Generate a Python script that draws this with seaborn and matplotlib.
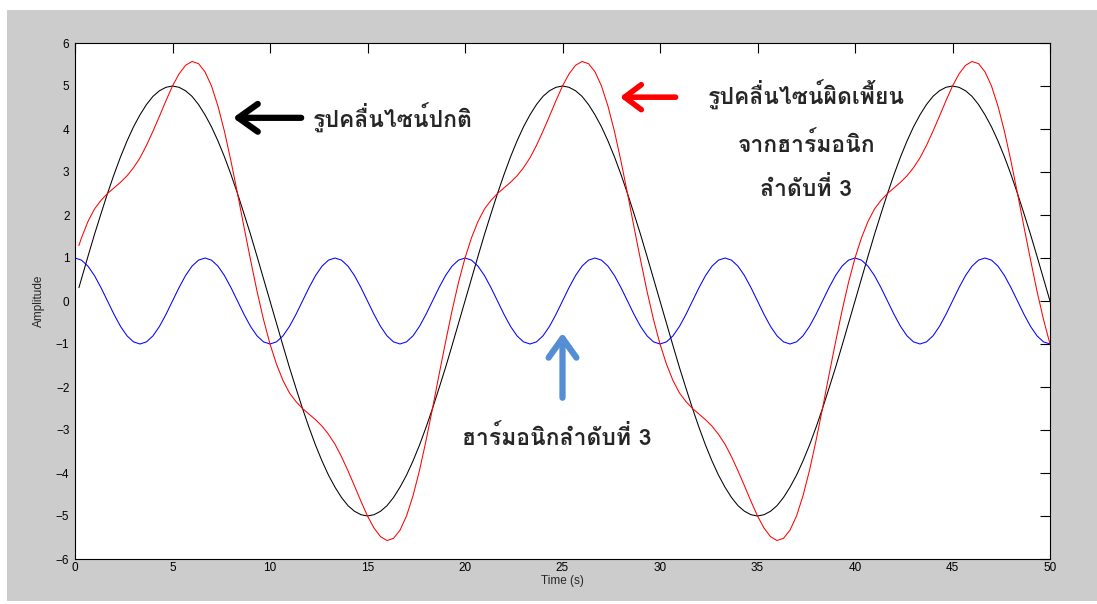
import numpy as np
import pandas as pd
import matplotlib
matplotlib.use("Agg")
import matplotlib.pyplot as plt
import seaborn as sns
from matplotlib.patches import Rectangle

# -----------------------------------------------------------------------------
# DATA (one sample every 1/3 s)
# -----------------------------------------------------------------------------

time = np.arange(151) / 3.0

fundamental = [
    0, 0.52, 1.04, 1.55, 2.03, 2.5, 2.94, 3.35, 3.72, 4.05, 4.33, 4.57, 4.76, 4.89, 4.97,
    5, 4.97, 4.89, 4.76, 4.57, 4.33, 4.05, 3.72, 3.35, 2.94, 2.5, 2.03, 1.55, 1.04, 0.52,
    0, -0.52, -1.04, -1.55, -2.03, -2.5, -2.94, -3.35, -3.72, -4.05, -4.33, -4.57, -4.76, -4.89, -4.97,
    -5, -4.97, -4.89, -4.76, -4.57, -4.33, -4.05, -3.72, -3.35, -2.94, -2.5, -2.03, -1.55, -1.04, -0.52,
    0, 0.52, 1.04, 1.55, 2.03, 2.5, 2.94, 3.35, 3.72, 4.05, 4.33, 4.57, 4.76, 4.89, 4.97,
    5, 4.97, 4.89, 4.76, 4.57, 4.33, 4.05, 3.72, 3.35, 2.94, 2.5, 2.03, 1.55, 1.04, 0.52,
    0, -0.52, -1.04, -1.55, -2.03, -2.5, -2.94, -3.35, -3.72, -4.05, -4.33, -4.57, -4.76, -4.89, -4.97,
    -5, -4.97, -4.89, -4.76, -4.57, -4.33, -4.05, -3.72, -3.35, -2.94, -2.5, -2.03, -1.55, -1.04, -0.52,
    0, 0.52, 1.04, 1.55, 2.03, 2.5, 2.94, 3.35, 3.72, 4.05, 4.33, 4.57, 4.76, 4.89, 4.97,
    5, 4.97, 4.89, 4.76, 4.57, 4.33, 4.05, 3.72, 3.35, 2.94, 2.5, 2.03, 1.55, 1.04, 0.52,
    0,
]

harmonic = [
    1, 0.95, 0.81, 0.59, 0.31, 0, -0.31, -0.59, -0.81, -0.95,
    -1, -0.95, -0.81, -0.59, -0.31, 0, 0.31, 0.59, 0.81, 0.95,
    1, 0.95, 0.81, 0.59, 0.31, 0, -0.31, -0.59, -0.81, -0.95,
    -1, -0.95, -0.81, -0.59, -0.31, 0, 0.31, 0.59, 0.81, 0.95,
    1, 0.95, 0.81, 0.59, 0.31, 0, -0.31, -0.59, -0.81, -0.95,
    -1, -0.95, -0.81, -0.59, -0.31, 0, 0.31, 0.59, 0.81, 0.95,
    1, 0.95, 0.81, 0.59, 0.31, 0, -0.31, -0.59, -0.81, -0.95,
    -1, -0.95, -0.81, -0.59, -0.31, 0, 0.31, 0.59, 0.81, 0.95,
    1, 0.95, 0.81, 0.59, 0.31, 0, -0.31, -0.59, -0.81, -0.95,
    -1, -0.95, -0.81, -0.59, -0.31, 0, 0.31, 0.59, 0.81, 0.95,
    1, 0.95, 0.81, 0.59, 0.31, 0, -0.31, -0.59, -0.81, -0.95,
    -1, -0.95, -0.81, -0.59, -0.31, 0, 0.31, 0.59, 0.81, 0.95,
    1, 0.95, 0.81, 0.59, 0.31, 0, -0.31, -0.59, -0.81, -0.95,
    -1, -0.95, -0.81, -0.59, -0.31, 0, 0.31, 0.59, 0.81, 0.95,
    1, 0.95, 0.81, 0.59, 0.31, 0, -0.31, -0.59, -0.81, -0.95,
    -1,
]

# the black and red traces start a little after t = 0
start_time = 0.2
start_fundamental = 0.31
start_harmonic = 0.98

x_ticks = [0, 5, 10, 15, 20, 25, 30, 35, 40, 45, 50]
y_ticks = [-6, -5, -4, -3, -2, -1, 0, 1, 2, 3, 4, 5, 6]

label_normal = "รูปคลื่นไซน์ปกติ"
label_distorted = "รูปคลื่นไซน์ผิดเพี้ยน\nจากฮาร์มอนิก\nลำดับที่ 3"
label_harmonic = "ฮาร์มอนิกลำดับที่ 3"

# -----------------------------------------------------------------------------
# SETUP
# -----------------------------------------------------------------------------

sns.set_theme(style="white")
plt.rcParams["font.family"] = ["Liberation Sans", "DejaVu Sans"]
THAI = ["Loma", "Noto Sans Thai Looped", "DejaVu Sans"]
THAI_SIZE = 16.5

t_main = np.array([start_time] + list(time[1:]))
y_black = np.array([start_fundamental] + fundamental[1:])
y_red = y_black + np.array([start_harmonic] + harmonic[1:])

df = pd.concat([
    pd.DataFrame({"t": t_main, "v": y_black, "wave": "fundamental"}),
    pd.DataFrame({"t": time, "v": harmonic, "wave": "harmonic"}),
    pd.DataFrame({"t": t_main, "v": y_red, "wave": "distorted"}),
])

# -----------------------------------------------------------------------------
# FIGURE
# -----------------------------------------------------------------------------

fig = plt.figure(figsize=(10.97, 6.04), dpi=100, facecolor="white")
fig.patches.append(Rectangle((7 / 1097, 3 / 604), 1 - 7 / 1097, 1 - 13 / 604,
                             transform=fig.transFigure, facecolor="#cccccc",
                             edgecolor="none", zorder=-1))
ax = fig.add_axes([75 / 1097, 1 - 559 / 604, 975 / 1097, 516 / 604])
ax.set_facecolor("white")

sns.lineplot(data=df, x="t", y="v", hue="wave",
             palette={"fundamental": "#000000", "harmonic": "#0000ff", "distorted": "#ff0000"},
             hue_order=["fundamental", "harmonic", "distorted"],
             linewidth=0.75, legend=False, ax=ax, sort=False, estimator=None)

ax.set_xlim(0, 50)
ax.set_ylim(-6, 6)
ax.set_xticks(x_ticks)
ax.set_yticks(y_ticks)
ax.tick_params(direction="in", length=7, width=0.8, top=True, right=True,
               labeltop=False, labelright=False, labelsize=8.5, colors="#000000")
ax.tick_params(axis="x", pad=2)
ax.tick_params(axis="y", pad=4)
for s in ax.spines.values():
    s.set_color("#000000")
    s.set_linewidth(0.8)
ax.set_xlabel("Time (s)", fontsize=8.5, labelpad=1)
ax.set_ylabel("Amplitude", fontsize=8.5, labelpad=8)

# annotations
ax.annotate("", xy=(8.1, 4.26), xytext=(11.6, 4.26),
            arrowprops=dict(arrowstyle="->,head_length=0.7,head_width=0.5",
                            lw=4.5, color="#000000", mutation_scale=20,
                            capstyle="round", joinstyle="round", shrinkA=0, shrinkB=0))
ax.text(12.2, 4.26, label_normal, family=THAI, fontweight="bold", fontsize=THAI_SIZE,
        ha="left", va="center")

ax.annotate("", xy=(27.95, 4.74), xytext=(30.8, 4.74),
            arrowprops=dict(arrowstyle="->,head_length=0.6,head_width=0.45",
                            lw=4, color="#ff0000", mutation_scale=20,
                            capstyle="round", joinstyle="round", shrinkA=0, shrinkB=0))
ax.text(37.5, 3.74, label_distorted, family=THAI, fontweight="bold", fontsize=THAI_SIZE,
        ha="center", va="center", linespacing=2.0)

ax.annotate("", xy=(25.0, -0.74), xytext=(25.0, -2.25),
            arrowprops=dict(arrowstyle="->,head_length=0.7,head_width=0.5",
                            lw=4.5, color="#558ed5", mutation_scale=20,
                            capstyle="round", joinstyle="round", shrinkA=0, shrinkB=0))
ax.text(24.7, -3.16, label_harmonic, family=THAI, fontweight="bold", fontsize=THAI_SIZE,
        ha="center", va="center")

plt.savefig("out.png", dpi=100, facecolor=fig.get_facecolor())
plt.close()
